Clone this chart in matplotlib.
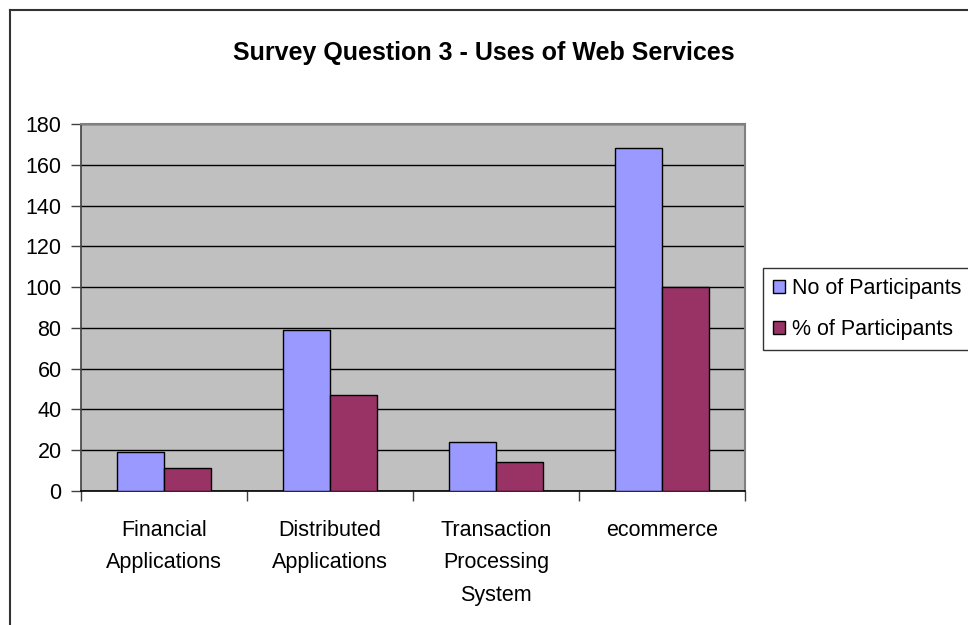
import matplotlib
matplotlib.use("Agg")
import matplotlib.pyplot as plt
from matplotlib.lines import Line2D
import numpy as np

categories = ["Financial\nApplications", "Distributed\nApplications",
              "Transaction\nProcessing\nSystem", "ecommerce"]
no_participants = [19, 79, 24, 168]
pct_participants = [11.3, 47, 14.3, 100]
series_names = ["No of Participants", "% of Participants"]
yticks = [0, 20, 40, 60, 80, 100, 120, 140, 160, 180]

plt.rcParams['font.family'] = ['Liberation Sans', 'DejaVu Sans']

W, H = 968, 625
fig = plt.figure(figsize=(W / 100, H / 100), dpi=100)
fig.patch.set_facecolor('white')

L, R, T, B = 81, 745, 124, 491
ax = fig.add_axes([L / W, 1 - B / H, (R - L) / W, (B - T) / H])
ax.set_facecolor('#C0C0C0')

x = np.arange(len(categories))
bw = 0.285
ax.bar(x - bw / 2, no_participants, bw, color='#9999FF', edgecolor='black',
       linewidth=1.0, label=series_names[0], zorder=3)
ax.bar(x + bw / 2, pct_participants, bw, color='#993366', edgecolor='black',
       linewidth=1.0, label=series_names[1], zorder=3)

ax.set_xlim(-0.5, len(categories) - 0.5)
ax.set_ylim(0, 180)
ax.set_yticks(yticks)
ax.set_yticklabels([str(v) for v in yticks], fontsize=15.5)
ax.yaxis.grid(True, color='black', linewidth=1.0, zorder=1)
ax.set_axisbelow(True)
ax.tick_params(axis='y', length=7, width=1, color='#404040', pad=7)

ax.set_xticks(x)
ax.set_xticklabels(categories, fontsize=15.5, linespacing=1.7)
ax.set_xticks(np.arange(-0.5, len(categories), 1.0), minor=True)
ax.tick_params(axis='x', which='major', length=0, pad=21)
ax.tick_params(axis='x', which='minor', length=7, width=1, color='#404040')

for s in ['top', 'right']:
    ax.spines[s].set_color('#808080')
    ax.spines[s].set_linewidth(1.5)
ax.spines['left'].set_color('#404040')
ax.spines['bottom'].set_color('black')
ax.spines['left'].set_linewidth(1.2)
ax.spines['bottom'].set_linewidth(1.2)

fig.text(484 / W, 1 - 53 / H, "Survey Question 3 - Uses of Web Services",
         ha='center', va='center', fontsize=18, fontweight='bold')

leg = fig.legend(loc='upper left', bbox_to_anchor=(763 / W, 1 - 268 / H),
                 fontsize=15.5, frameon=True, fancybox=False, shadow=False,
                 handlelength=0.55, handleheight=0.55, handletextpad=0.35,
                 labelspacing=0.95, borderpad=0.45, borderaxespad=0)
leg.get_frame().set_edgecolor('black')
leg.get_frame().set_linewidth(1.0)

# outer chart border (left and top visible)
fig.add_artist(Line2D([10 / W, 10 / W], [0, 1 - 10 / H], transform=fig.transFigure,
                      color='#333333', linewidth=1.5))
fig.add_artist(Line2D([10 / W, 1], [1 - 10 / H, 1 - 10 / H], transform=fig.transFigure,
                      color='#333333', linewidth=1.5))

fig.savefig("out.png", dpi=100)
